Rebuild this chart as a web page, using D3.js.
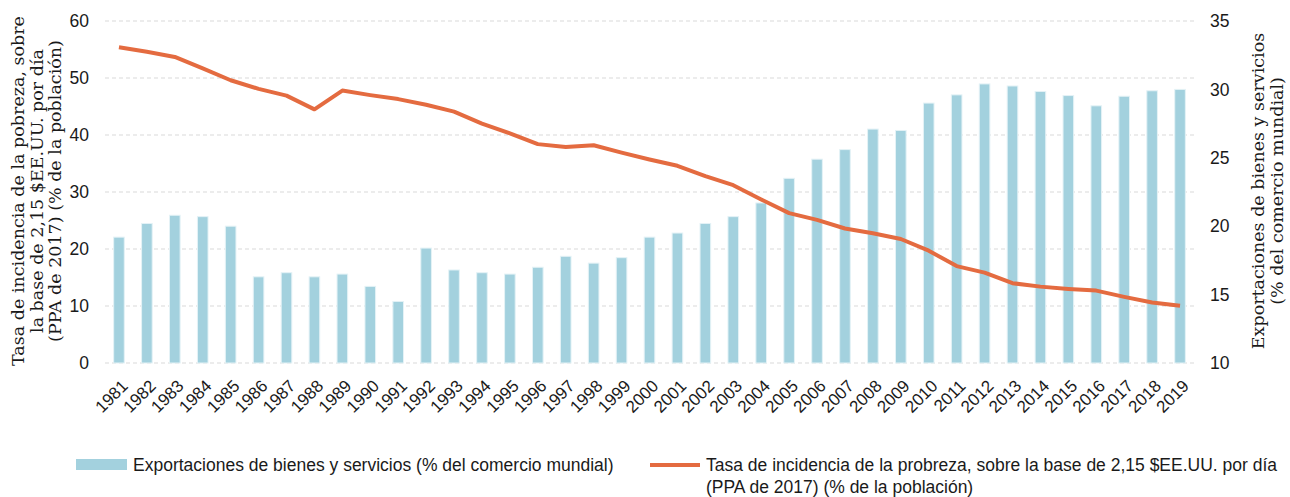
<!DOCTYPE html>
<html lang="es">
<head>
  <meta charset="UTF-8" />
  <title>Pobreza y exportaciones</title>
  <style>
    body { margin: 0; background: #fff; }
    text { font-family: "Liberation Sans", Arial, sans-serif; fill: #1a1a1a; }
    .axis-title { font-family: "DejaVu Serif", serif; font-size: 17.5px; }
    .tick text { font-size: 17.5px; }
    .grid line { stroke: #d9d9d9; stroke-dasharray: 4 3; }
  </style>
</head>
<body>
  <svg width="1290" height="497"></svg>
  <script src="https://d3js.org/d3.v7.min.js"></script>
  <script>
    // datos
    const years = d3.range(1981, 2020).map(String);
    // exportaciones (% del comercio mundial) - eje derecho
    const exportsShare = [19.2, 20.2, 20.8, 20.7, 20.0, 16.3, 16.6, 16.3, 16.5, 15.6,
      14.5, 18.4, 16.8, 16.6, 16.5, 17.0, 17.8, 17.3, 17.7, 19.2,
      19.5, 20.2, 20.7, 21.7, 23.5, 24.9, 25.6, 27.1, 27.0, 29.0,
      29.6, 30.4, 30.25, 29.85, 29.55, 28.8, 29.5, 29.9, 30.0];
    // tasa de pobreza (% de la población) - eje izquierdo
    const poverty = [55.4, 54.6, 53.7, 51.7, 49.6, 48.1, 46.9, 44.5, 47.8, 47.0,
      46.3, 45.3, 44.1, 42.0, 40.3, 38.4, 37.9, 38.2, 36.9, 35.7,
      34.6, 32.8, 31.2, 28.7, 26.3, 25.1, 23.6, 22.75, 21.75, 19.7,
      17.0, 15.85, 14.0, 13.4, 13.0, 12.7, 11.6, 10.6, 10.05];
    const leftTicks = [0, 10, 20, 30, 40, 50, 60];
    const rightTicks = [10, 15, 20, 25, 30, 35];

    const svg = d3.select('svg');
    const m = { left: 105, right: 1194, top: 21, bottom: 363 };

    const x = d3.scaleBand().domain(years).range([m.left, m.right]).paddingInner(0.62).paddingOuter(0.31);
    const yL = d3.scaleLinear().domain([0, 60]).range([m.bottom, m.top]);
    const yR = d3.scaleLinear().domain([10, 35]).range([m.bottom, m.top]);

    // rejilla
    svg.append('g').attr('class', 'grid')
      .selectAll('line').data(leftTicks).join('line')
      .attr('x1', m.left).attr('x2', m.right)
      .attr('y1', d => yL(d)).attr('y2', d => yL(d));

    // barras
    svg.append('g').selectAll('rect').data(years).join('rect')
      .attr('x', d => x(d))
      .attr('width', x.bandwidth())
      .attr('y', (d, i) => yR(exportsShare[i]))
      .attr('height', (d, i) => yR(10) - yR(exportsShare[i]))
      .attr('fill', '#a3d1de')
      .attr('stroke', '#e4f2f6').attr('stroke-width', 1);

    // linea
    const line = d3.line()
      .x((d, i) => x(years[i]) + x.bandwidth() / 2)
      .y(d => yL(d));
    svg.append('path').datum(poverty)
      .attr('d', line)
      .attr('fill', 'none')
      .attr('stroke', '#e46b40')
      .attr('stroke-width', 4)
      .attr('stroke-linejoin', 'round');

    // ejes
    const axL = svg.append('g').attr('transform', `translate(${m.left},0)`)
      .call(d3.axisLeft(yL).tickValues(leftTicks).tickSize(0).tickPadding(16));
    const axR = svg.append('g').attr('transform', `translate(${m.right},0)`)
      .call(d3.axisRight(yR).tickValues(rightTicks).tickSize(0).tickPadding(16));
    const axB = svg.append('g').attr('transform', `translate(0,${m.bottom})`)
      .call(d3.axisBottom(x).tickSize(0).tickPadding(0));
    [axL, axR, axB].forEach(g => g.select('.domain').remove());
    axB.selectAll('text')
      .style('font-size', '17px')
      .attr('text-anchor', 'end')
      .attr('dy', null)
      .attr('transform', 'translate(10,24) rotate(-45)');

    // titulos de ejes
    const leftTitle = ['Tasa de incidencia de la pobreza, sobre',
      'la base de 2,15 $EE.UU. por día',
      '(PPA de 2017) (% de la población)'];
    svg.append('text').attr('class', 'axis-title')
      .attr('transform', 'translate(24,191) rotate(-90)')
      .attr('text-anchor', 'middle')
      .selectAll('tspan').data(leftTitle).join('tspan')
      .attr('x', 0).attr('dy', (d, i) => i ? 18.5 : 0)
      .text(d => d);

    const rightTitle = ['Exportaciones de bienes y servicios', '(% del comercio mundial)'];
    svg.append('text').attr('class', 'axis-title')
      .attr('transform', 'translate(1264,191) rotate(-90)')
      .attr('text-anchor', 'middle')
      .selectAll('tspan').data(rightTitle).join('tspan')
      .attr('x', 0).attr('dy', (d, i) => i ? 18.5 : 0)
      .text(d => d);

    // leyenda
    const lg = svg.append('g').style('font-size', '17.5px');
    lg.append('rect').attr('x', 76).attr('y', 459).attr('width', 51).attr('height', 11).attr('fill', '#a3d1de');
    lg.append('text').attr('x', 133).attr('y', 471).text('Exportaciones de bienes y servicios (% del comercio mundial)');
    lg.append('line').attr('x1', 650).attr('x2', 700).attr('y1', 465).attr('y2', 465)
      .attr('stroke', '#e46b40').attr('stroke-width', 4);
    lg.append('text').attr('x', 706).attr('y', 471)
      .text('Tasa de incidencia de la probreza, sobre la base de 2,15 $EE.UU. por día');
    lg.append('text').attr('x', 706).attr('y', 493).text('(PPA de 2017) (% de la población)');
  </script>
</body>
</html>
